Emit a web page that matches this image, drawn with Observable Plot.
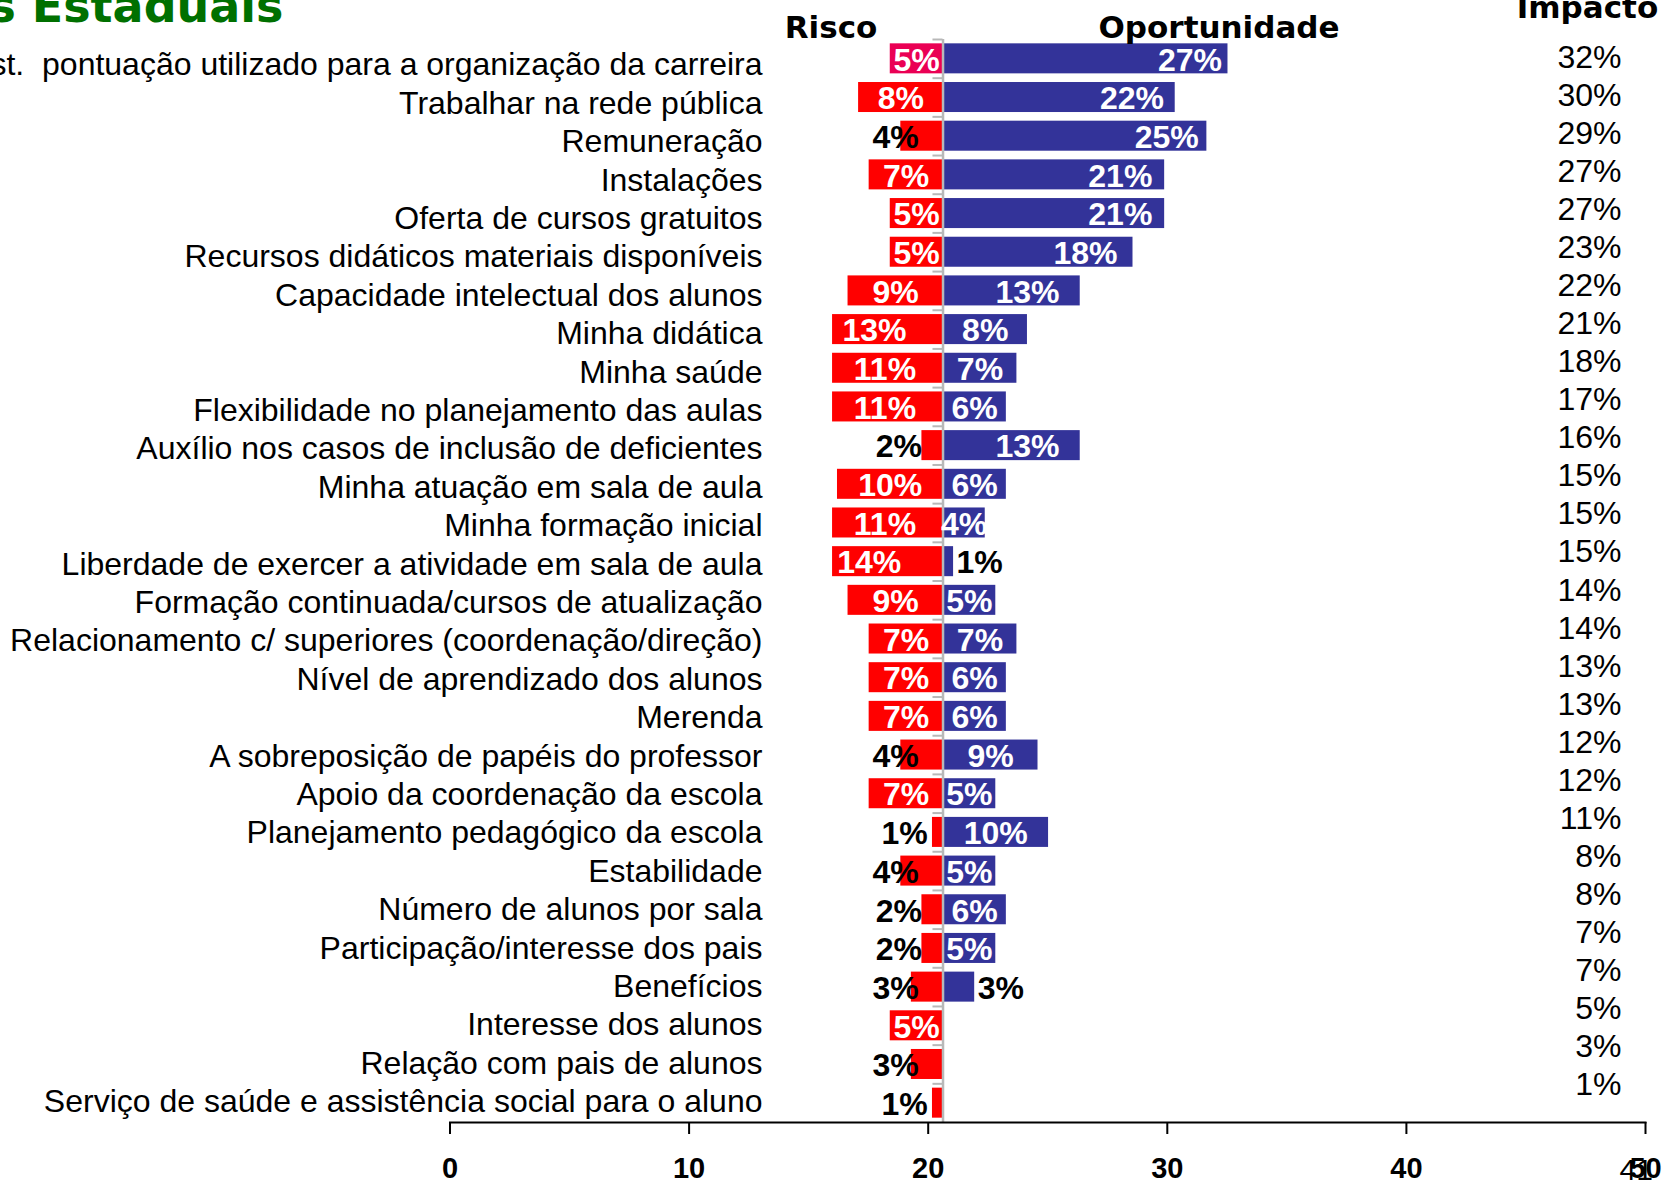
<!DOCTYPE html>
<html><head><meta charset="utf-8">
<script src="https://cdn.jsdelivr.net/npm/d3@7"></script>
<script src="https://cdn.jsdelivr.net/npm/@observablehq/plot@0.6"></script>
<style>
html,body{margin:0;padding:0;background:#fff;overflow:hidden}
#wrap{position:relative;width:1664px;height:1184px;overflow:hidden}
#wrap svg{position:absolute;left:0;top:0;overflow:visible;max-width:none}
#wrap g[aria-label="x-axis tick label"] text{font-weight:bold}
</style></head><body><div id="wrap"></div>
<script>
// ---- data ----
const categories = [
  "Sist.\u00a0 pontuação utilizado para a organização da carreira",
  "Trabalhar na rede pública",
  "Remuneração",
  "Instalações",
  "Oferta de cursos gratuitos",
  "Recursos didáticos materiais disponíveis",
  "Capacidade intelectual dos alunos",
  "Minha didática",
  "Minha saúde",
  "Flexibilidade no planejamento das aulas",
  "Auxílio nos casos de inclusão de deficientes",
  "Minha atuação em sala de aula",
  "Minha formação inicial",
  "Liberdade de exercer a atividade em sala de aula",
  "Formação continuada/cursos de atualização",
  "Relacionamento c/ superiores (coordenação/direção)",
  "Nível de aprendizado dos alunos",
  "Merenda",
  "A sobreposição de papéis do professor",
  "Apoio da coordenação da escola",
  "Planejamento pedagógico da escola",
  "Estabilidade",
  "Número de alunos por sala",
  "Participação/interesse dos pais",
  "Benefícios",
  "Interesse dos alunos",
  "Relação com pais de alunos",
  "Serviço de saúde e assistência social para o aluno"
];
const risco        = [5, 8, 4, 7, 5, 5, 9, 13, 11, 11, 2, 10, 11, 14, 9, 7, 7, 7, 4, 7, 1, 4, 2, 2, 3, 5, 3, 1];
const oportunidade = [27, 22, 25, 21, 21, 18, 13, 8, 7, 6, 13, 6, 4, 1, 5, 7, 6, 6, 9, 5, 10, 5, 6, 5, 3, 0, 0, 0];
const impacto      = [32, 30, 29, 27, 27, 23, 22, 21, 18, 17, 16, 15, 15, 15, 14, 14, 13, 13, 12, 12, 11, 8, 8, 7, 7, 5, 3, 1];
const axisTicks    = [0, 10, 20, 30, 40, 50];
const titleText    = "s Estaduais";
const headers      = {risco: "Risco", oportunidade: "Oportunidade", impacto: "Impacto"};
const pageNumber   = "41";

const rows = categories.map((name, i) => ({name, i, risco: risco[i], oportunidade: oportunidade[i], impacto: impacto[i]}));

// ---- layout ----
const W = 1664, H = 1184;
const center = 20.62;     // axis position of the risk/opportunity divide
const k = 0.4414;         // axis units per percentage point
const riskClip = 16;      // risk bars are cut off at this axis value
const sans = "'Liberation Sans', Arial, sans-serif";
const heavy = "'DejaVu Sans', Verdana, sans-serif";
const pct = v => v + "%";
const clamp = (v, a, b) => Math.max(a, Math.min(b, v));

const main = Plot.plot({
  width: W, height: H,
  marginTop: 39, marginBottom: 62, marginLeft: 449.5, marginRight: 19,
  x: {domain: [0, 50]},
  y: {domain: categories, paddingInner: 0.224, paddingOuter: 0.112, round: false, axis: null},
  color: {type: "identity"},
  style: {fontFamily: sans, background: "transparent", overflow: "visible"},
  marks: [
    Plot.barX(rows, {y: "name", x1: d => Math.max(center - d.risco * k, riskClip), x2: center,
      fill: d => d.i === 0 ? "#EA0054" : "#FF0000"}),
    Plot.barX(rows.filter(d => d.oportunidade > 0), {y: "name", x1: center, x2: d => center + d.oportunidade * k, fill: "#333399"}),
    Plot.ruleX([center], {stroke: "#b8b8b8", strokeWidth: 2.5}),
    Plot.ruleY(categories, {y: d => d, x1: center - 0.42, x2: center, dy: -19.34, stroke: "#b8b8b8", strokeWidth: 2}),
    Plot.frame({anchor: "bottom", stroke: "#000", strokeWidth: 2}),
    Plot.axisX({ticks: axisTicks, tickSize: 12, tickPadding: 23, fontSize: 29, fontWeight: "bold", strokeWidth: 2, label: null, fill: "#000", stroke: "#000"}),
    // risk labels
    Plot.text(rows.filter(d => d.risco >= 5), {y: "name", x: d => center - d.risco / 2 * k, text: d => pct(d.risco),
      fill: "#fff", fontWeight: "bold", fontSize: 32, dy: 1.5}),
    Plot.text(rows.filter(d => d.risco < 5), {y: "name", x: d => center - clamp(d.risco, 1.45, 2.3) * k, textAnchor: "end",
      text: d => pct(d.risco), fill: "#000", fontWeight: "bold", fontSize: 32, dy: 1.5}),
    // opportunity labels
    Plot.text(rows.filter(d => d.oportunidade >= 4), {y: "name", x: d => center + Math.max(d.oportunidade / 2, 1.1 * d.oportunidade - 6.3) * k,
      text: d => pct(d.oportunidade), fill: "#fff", fontWeight: "bold", fontSize: 32, dy: 1.5}),
    Plot.text(rows.filter(d => d.oportunidade > 0 && d.oportunidade < 4), {y: "name", x: d => center + d.oportunidade * k, dx: 3,
      textAnchor: "start", text: d => pct(d.oportunidade), fill: "#000", fontWeight: "bold", fontSize: 32, dy: 1.5}),
    // headers
    Plot.text([headers.risco], {x: center, dx: -112, frameAnchor: "top", lineAnchor: "bottom", dy: -2,
      fontSize: 31, fontWeight: "bold", fontFamily: heavy, fill: "#000"}),
    Plot.text([headers.oportunidade], {x: center, dx: 276, frameAnchor: "top", lineAnchor: "bottom", dy: -2,
      fontSize: 31, fontWeight: "bold", fontFamily: heavy, fill: "#000"}),
    // title (cut off by the page edge)
    Plot.text([titleText], {frameAnchor: "top-left", textAnchor: "end", lineAnchor: "bottom", dx: -166.5, dy: -18,
      fontSize: 46, fontWeight: "bold", fontFamily: heavy, fill: "#007000"}),
    // page number overlapping the last tick label
    Plot.text([pageNumber], {frameAnchor: "bottom-right", textAnchor: "start", lineAnchor: "bottom", dx: -26, dy: 57,
      fontSize: 30, fill: "#000"})
  ]
});

// category labels: a text box with its own, slightly tighter line spacing
const lab = Plot.plot({
  width: W, height: H,
  marginTop: 45.5, marginBottom: 63.3, marginLeft: 449.5, marginRight: 19,
  x: {domain: [0, 50], axis: null},
  y: {domain: categories, round: false, axis: null},
  style: {fontFamily: sans, background: "transparent", overflow: "visible"},
  marks: [
    Plot.text(rows, {y: "name", text: "name", frameAnchor: "left", textAnchor: "end", dx: 312.5, fontSize: 32, fill: "#000"})
  ]
});

// impact column: another text box with its own line spacing
const imp = Plot.plot({
  width: W, height: H,
  marginTop: 37, marginBottom: 81.5, marginLeft: 449.5, marginRight: 19,
  x: {domain: [0, 50], axis: null},
  y: {domain: categories, round: false, axis: null},
  style: {fontFamily: sans, background: "transparent", overflow: "visible"},
  marks: [
    Plot.text(rows, {y: "name", text: d => pct(d.impacto), frameAnchor: "right", textAnchor: "end", dx: -24, dy: 1, fontSize: 32, fill: "#000"}),
    Plot.text([headers.impacto], {frameAnchor: "top-right", textAnchor: "middle", lineAnchor: "bottom", dx: -58, dy: -20,
      fontSize: 31, fontWeight: "bold", fontFamily: heavy, fill: "#000"})
  ]
});

const wrap = document.getElementById("wrap");
wrap.appendChild(main);
wrap.appendChild(lab);
wrap.appendChild(imp);
</script></body></html>
